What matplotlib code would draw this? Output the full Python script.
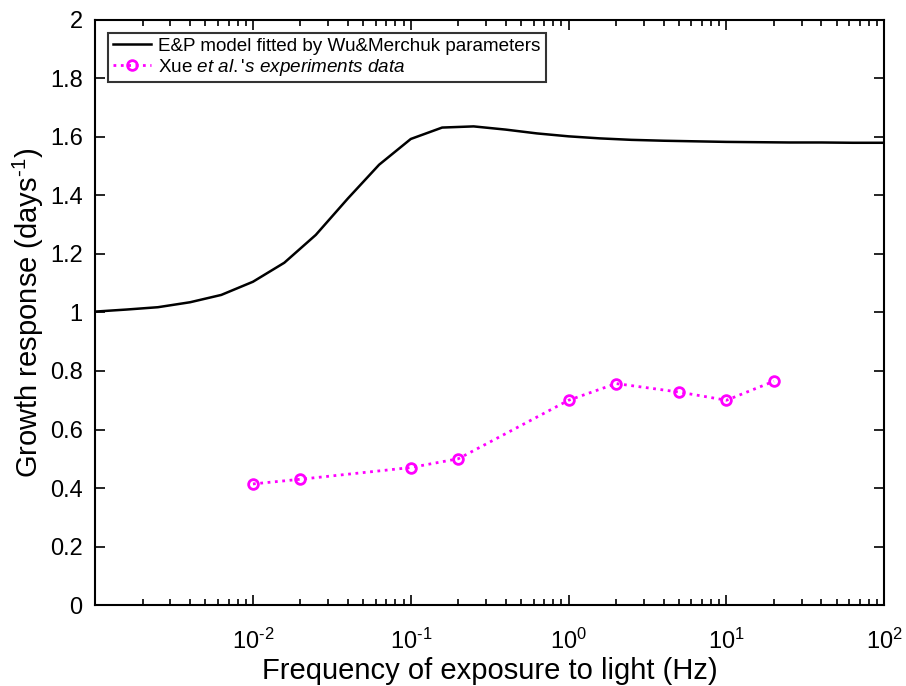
import numpy as np
import matplotlib
matplotlib.use("Agg")
import matplotlib.pyplot as plt
from matplotlib.ticker import LogLocator, NullFormatter

plt.rcParams["font.family"] = ["Liberation Sans", "DejaVu Sans"]
plt.rcParams["mathtext.fontset"] = "custom"
plt.rcParams["mathtext.rm"] = "Liberation Sans"
plt.rcParams["mathtext.it"] = "Liberation Sans:italic"

# ── data ─────────────────────────────────────────────────────────────────────

# E&P model curve
model_freq = [0.001, 0.00158, 0.0025, 0.004, 0.0063, 0.01, 0.0158, 0.025, 0.04,
              0.063, 0.1, 0.158, 0.25, 0.4, 0.63, 1.0, 1.58, 2.5, 4.0, 6.3,
              10.0, 15.8, 25.0, 40.0, 63.0, 100.0]
model_growth = [1.003, 1.010, 1.018, 1.035, 1.060, 1.105, 1.170, 1.265, 1.390,
                1.505, 1.593, 1.632, 1.636, 1.625, 1.612, 1.602, 1.595, 1.590,
                1.587, 1.585, 1.583, 1.582, 1.581, 1.581, 1.580, 1.580]

# Xue et al. experiments
exp_freq = [0.01, 0.02, 0.1, 0.2, 1, 2, 5, 10, 20]
exp_growth = [0.414, 0.43, 0.47, 0.50, 0.70, 0.757, 0.728, 0.70, 0.765]

# tick positions / labels (MATLAB-style short hyphen in exponents)
x_ticks = [1e-2, 1e-1, 1, 10, 100]
x_exps = ["-2", "-1", "0", "1", "2"]

# ── plot ─────────────────────────────────────────────────────────────────────

fig = plt.figure(figsize=(9.06, 6.86), dpi=100)
ax = fig.add_axes([0.105, 0.118, 0.871, 0.853])

ax.plot(model_freq, model_growth, color="black", linewidth=1.8,
        label="E&P model fitted by Wu&Merchuk parameters")
ax.plot(exp_freq, exp_growth, color="#ff00ff", linestyle=":", linewidth=2,
        marker="o", markersize=7, markerfacecolor="none", markeredgewidth=2,
        label=r"Xue $\mathit{et\ al.}$'$\mathit{s\ experiments\ data}$")

ax.set_xscale("log")
ax.set_xlim(1e-3, 1e2)
ax.set_ylim(0, 2)
ax.set_xticks(x_ticks)
ax.set_xticklabels([r"$10^{\text{%s}}$" % e for e in x_exps])
ax.xaxis.set_minor_locator(LogLocator(base=10, subs=np.arange(2, 10)))
ax.xaxis.set_minor_formatter(NullFormatter())
yt = np.round(np.arange(0, 2.01, 0.2), 1)
ax.set_yticks(yt)
ax.set_yticklabels([f"{v:g}" for v in yt])

ax.tick_params(which="both", direction="in", top=True, right=True, labelsize=17,
               width=1.2)
ax.tick_params(which="major", length=7)
ax.tick_params(which="minor", length=4)
ax.tick_params(axis="x", pad=17)
ax.tick_params(axis="y", pad=9)
for s in ax.spines.values():
    s.set_linewidth(1.5)

ax.set_xlabel("Frequency of exposure to light (Hz)", fontsize=21, labelpad=2)
ax.set_ylabel(r"Growth response (days$^{\text{-1}}$)", fontsize=21, labelpad=3)

leg = ax.legend(loc="upper left", fontsize=13.6, frameon=True, fancybox=False,
                edgecolor="black", borderaxespad=0.7, handlelength=2.0,
                handletextpad=0.4, borderpad=0.25, labelspacing=0.08)
leg.get_frame().set_linewidth(1.5)

fig.savefig("out.png", dpi=100)
